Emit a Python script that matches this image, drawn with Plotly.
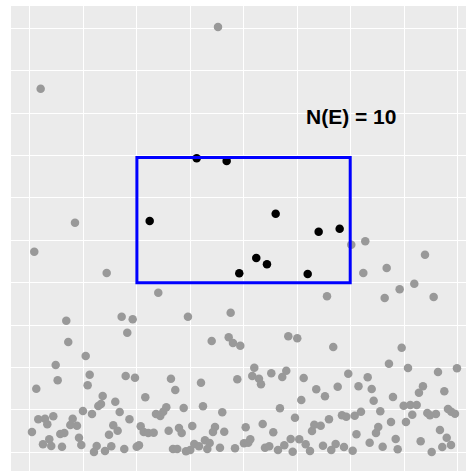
import plotly.graph_objects as go

# Points inside the event region E (black)
in_x = [2.239, 3.118, 3.679, 4.596, 5.400, 5.793, 3.915, 4.233, 4.433, 5.195]
in_y = [5.455, 6.934, 6.870, 5.627, 5.203, 5.274, 4.222, 4.583, 4.434, 4.205]

# Points outside E (grey)
out_x = [
    3.517, 0.200, 0.842, 0.080, 1.435, 2.400, 6.010, 6.272, 6.235, 6.672, 7.389, 7.189, 6.915, 6.635, 7.551, 5.556,
    0.679, 1.715, 1.820, 0.716, 1.042, 0.481, 1.117, 1.790, 0.518, 1.079, 0.118, 1.360, 1.596, 1.278, 1.328, 0.991,
    1.160, 1.678, 0.155, 0.281, 0.324, 0.436, 0.799, 0.754, 0.879, 1.861, 0.037, 0.567, 0.642, 0.361, 0.917, 1.558,
    1.640, 1.478, 0.243, 0.398, 0.599, 0.960, 1.248, 1.197, 1.403, 1.521, 1.764,
    1.921, 2.955, 3.754, 3.399, 3.717, 3.797, 3.934, 1.964, 2.637, 2.718, 3.199, 3.878, 2.157, 2.875, 3.236, 3.597,
    2.550, 2.493, 2.437, 2.357, 2.071, 2.127, 2.213, 2.314, 2.594, 2.787, 2.838, 3.036, 3.461, 3.423, 3.634, 1.996,
    2.039, 2.675, 2.755, 2.918, 2.998, 3.073, 3.161, 3.273, 3.361, 3.317, 3.554, 3.835,
    4.832, 5.000, 5.673, 4.196, 4.158, 4.284, 4.321, 4.514, 4.794, 4.719, 5.120, 5.355, 5.518, 5.756, 5.954, 6.145,
    5.075, 4.676, 4.957, 4.353, 4.035, 4.551, 5.275, 5.318, 5.438, 5.593, 5.836, 5.917, 6.074, 4.003, 4.083, 4.121,
    4.396, 4.476, 4.639, 4.757, 4.877, 4.914, 5.037, 5.157, 5.238, 5.481, 5.636, 5.718, 5.874, 6.036, 6.107,
    6.953, 6.715, 7.071, 7.632, 7.987, 6.317, 6.392, 6.429, 6.790, 7.351, 7.276, 7.750, 6.990, 7.114, 7.234, 7.151,
    7.432, 7.482, 7.594, 7.819, 7.881, 7.950, 6.192, 6.553, 6.753, 7.033, 6.515, 6.472, 6.354, 6.597, 6.841, 6.878,
    7.308, 7.669, 7.795, 7.875, 7.712, 7.514,
]
out_y = [
    10.031, 8.575, 5.415, 4.731, 4.229, 3.764, 4.896, 4.976, 4.229, 4.347, 4.660, 3.976, 3.844, 3.639, 3.663, 3.679,
    3.104, 3.198, 2.821, 2.601, 2.271, 2.059, 1.830, 1.800, 1.698, 1.580, 1.500, 1.328, 1.193, 1.092, 1.139, 0.974,
    0.903, 0.950, 0.778, 0.792, 0.660, 0.849, 0.792, 0.644, 0.627, 0.778, 0.479, 0.432, 0.455, 0.307, 0.344, 0.637,
    0.509, 0.415, 0.189, 0.149, 0.132, 0.172, 0.149, 0.007, 0.031, 0.142, 0.078,
    3.137, 3.198, 3.292, 2.625, 2.712, 2.578, 2.514, 1.759, 1.736, 1.469, 1.642, 1.722, 1.297, 1.045, 1.085, 0.943,
    1.061, 0.958, 0.856, 0.903, 0.613, 0.479, 0.455, 0.462, 0.509, 0.573, 0.455, 0.620, 0.597, 0.479, 0.486, 0.132,
    0.165, 0.078, 0.078, 0.024, 0.054, 0.196, 0.142, 0.283, 0.219, 0.078, 0.108, 0.094,
    2.736, 2.689, 2.483, 1.995, 1.800, 1.736, 1.604, 1.863, 1.925, 1.776, 1.752, 1.486, 1.321, 1.547, 1.854, 1.557,
    1.233, 1.038, 0.816, 0.667, 0.590, 0.472, 0.502, 0.651, 0.627, 0.778, 0.873, 0.840, 0.863, 0.212, 0.226, 0.307,
    0.108, 0.142, 0.054, 0.165, 0.314, 0.014, 0.307, 0.189, 0.031, 0.156, 0.054, 0.196, 0.125, 0.038, 0.425,
    2.467, 2.090, 1.988, 1.894, 1.981, 1.769, 1.493, 1.217, 1.304, 1.557, 1.406, 1.439, 1.099, 1.116, 1.116, 0.887,
    0.927, 0.873, 0.903, 1.021, 0.958, 0.910, 0.958, 0.967, 0.715, 0.715, 0.597, 0.455, 0.226, 0.132, 0.314, 0.071,
    0.259, 0.526, 0.344, 0.172, 0.125, 0.007,
]

# Event region E
rect_x = [2.0, 5.99]
rect_y = [4.0, 6.95]
label_text = "N(E) = 10"
label_x = 6
label_y = 7.915

fig = go.Figure()
fig.add_trace(go.Scatter(
    x=out_x, y=out_y, mode="markers",
    marker=dict(color="#999999", size=8.5, line=dict(width=0)),
    showlegend=False, hoverinfo="skip",
))
fig.add_trace(go.Scatter(
    x=in_x, y=in_y, mode="markers",
    marker=dict(color="#000000", size=8.5, line=dict(width=0)),
    showlegend=False, hoverinfo="skip",
))
fig.add_shape(type="rect", x0=rect_x[0], x1=rect_x[1], y0=rect_y[0], y1=rect_y[1],
              xref="x", yref="y", line=dict(color="#0000FF", width=3), fillcolor="rgba(0,0,0,0)")
fig.add_annotation(x=label_x, y=label_y, text="<b>" + label_text + "</b>", showarrow=False,
                   font=dict(family="Liberation Sans, Arial, sans-serif", size=21, color="#000000"),
                   xanchor="center", yanchor="middle")

axis_common = dict(showticklabels=False, ticks="", zeroline=False, showline=False,
                   showgrid=True, gridcolor="#FFFFFF", gridwidth=1.3, tick0=0, dtick=1)
fig.update_xaxes(range=[-0.355, 8.156], **axis_common)
fig.update_yaxes(range=[-0.441, 10.526], **axis_common)
fig.update_layout(
    width=466, height=471,
    margin=dict(l=11, r=0, t=6, b=0, pad=0),
    plot_bgcolor="#EBEBEB", paper_bgcolor="#FFFFFF",
)
fig.write_html("out.html", config={"displayModeBar": False},
               post_script="document.body.style.margin='0px';document.body.style.overflow='hidden';")
